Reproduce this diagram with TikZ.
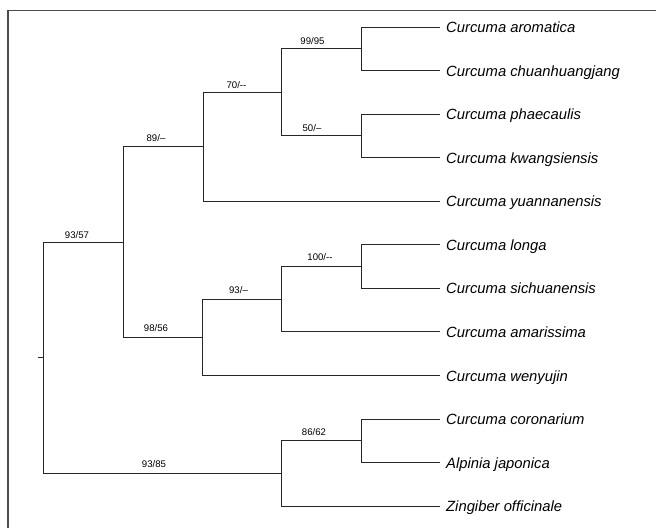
\documentclass[tikz,border=0pt]{standalone}
\usepackage{fontspec}
\setmainfont{Liberation Sans}
\begin{document}
\begin{tikzpicture}[x=1pt,y=-1pt,
  branch/.style={draw=black!85,line width=0.95pt},
  framepath/.style={draw=black!70,line width=1.2pt},
  taxon/.style={anchor=base west,inner sep=0pt,font=\fontsize{14.8}{17}\selectfont\itshape},
  support/.style={anchor=base,inner sep=0pt,font=\fontsize{9.6}{11}\selectfont}]
\useasboundingbox (0,0) rectangle (657,528);
\draw[framepath] (8,528) -- (8,10.5) -- (656,10.5);
% leaf tips
\def\lx{440}
\coordinate (l1) at (\lx,27.0);
\coordinate (l2) at (\lx,70.6);
\coordinate (l3) at (\lx,114.1);
\coordinate (l4) at (\lx,157.7);
\coordinate (l5) at (\lx,201.2);
\coordinate (l6) at (\lx,244.8);
\coordinate (l7) at (\lx,288.4);
\coordinate (l8) at (\lx,331.9);
\coordinate (l9) at (\lx,375.5);
\coordinate (l10) at (\lx,419.0);
\coordinate (l11) at (\lx,462.6);
\coordinate (l12) at (\lx,506.2);
% internal nodes
\coordinate (nA) at (361,48.8);
\coordinate (nB) at (361,135.9);
\coordinate (nAB) at (281,92.4);
\coordinate (nABY) at (203,146.8);
\coordinate (nC) at (361,266.6);
\coordinate (nCM) at (281,299.3);
\coordinate (nCMW) at (202,337.4);
\coordinate (nCur) at (123,242.1);
\coordinate (nD) at (361,440.8);
\coordinate (nDZ) at (281,473.5);
\coordinate (root) at (43,357.8);
\coordinate (stub) at (38,357.8);
% branches
\draw[branch] (stub) -- (root);
\draw[branch] (root) |- (nCur);
\draw[branch] (root) |- (nDZ);
\draw[branch] (nCur) |- (nABY);
\draw[branch] (nCur) |- (nCMW);
\draw[branch] (nABY) |- (nAB);
\draw[branch] (nABY) |- (l5);
\draw[branch] (nAB) |- (nA);
\draw[branch] (nAB) |- (nB);
\draw[branch] (nA) |- (l1);
\draw[branch] (nA) |- (l2);
\draw[branch] (nB) |- (l3);
\draw[branch] (nB) |- (l4);
\draw[branch] (nCMW) |- (nCM);
\draw[branch] (nCMW) |- (l9);
\draw[branch] (nCM) |- (nC);
\draw[branch] (nCM) |- (l8);
\draw[branch] (nC) |- (l6);
\draw[branch] (nC) |- (l7);
\draw[branch] (nDZ) |- (nD);
\draw[branch] (nDZ) |- (l12);
\draw[branch] (nD) |- (l10);
\draw[branch] (nD) |- (l11);
% taxa
\node[taxon] (t1) at (446,32.5) {Curcuma aromatica};
\node[taxon] (t2) at (446,76.1) {Curcuma chuanhuangjang};
\node[taxon] (t3) at (446,119.6) {Curcuma phaecaulis};
\node[taxon] (t4) at (446,163.2) {Curcuma kwangsiensis};
\node[taxon] (t5) at (446,206.7) {Curcuma yuannanensis};
\node[taxon] (t6) at (446,250.3) {Curcuma longa};
\node[taxon] (t7) at (446,293.9) {Curcuma sichuanensis};
\node[taxon] (t8) at (446,337.4) {Curcuma amarissima};
\node[taxon] (t9) at (446,381.0) {Curcuma wenyujin};
\node[taxon] (t10) at (446,424.5) {Curcuma coronarium};
\node[taxon] (t11) at (446,468.1) {Alpinia japonica};
\node[taxon] (t12) at (446,511.7) {Zingiber officinale};
% support values
\node[support] (s1) at (77,238.5) {93/57};
\node[support] (s2) at (156,141.5) {89/–};
\node[support] (s3) at (236.5,88.5) {70/-{}-};
\node[support] (s4) at (312.5,44.5) {99/95};
\node[support] (s5) at (312,131.5) {50/–};
\node[support] (s6) at (320,260.5) {100/-{}-};
\node[support] (s7) at (238.5,293.2) {93/–};
\node[support] (s8) at (156,331.5) {98/56};
\node[support] (s9) at (314,435.2) {86/62};
\node[support] (s10) at (154,467.5) {93/85};
\end{tikzpicture}
\end{document}
